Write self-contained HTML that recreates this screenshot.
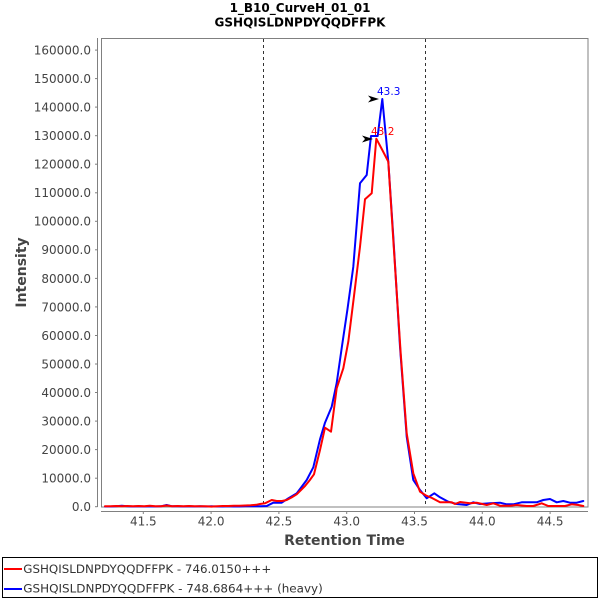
<!DOCTYPE html>
<html>
<head>
<meta charset="utf-8">
<style>
  html, body { margin: 0; padding: 0; background: #ffffff; }
  svg { display: block; }
  text { font-family: "DejaVu Sans", "Liberation Sans", sans-serif; }
</style>
</head>
<body>
<svg width="600" height="600" viewBox="0 0 600 600" xmlns="http://www.w3.org/2000/svg">
  <rect x="0" y="0" width="600" height="600" fill="#ffffff"/>

  <!-- Title -->
  <text x="300" y="12" font-size="12" font-weight="bold" fill="#000" text-anchor="middle">1_B10_CurveH_01_01</text>
  <text x="300" y="26.5" font-size="12" font-weight="bold" fill="#000" text-anchor="middle">GSHQISLDNPDYQQDFFPK</text>

  <!-- Plot border -->
  <rect x="101.5" y="38.5" width="486.5" height="468.5" fill="#ffffff" stroke="#808080" stroke-width="1"/>

  <!-- Y axis line and ticks -->
  <line x1="97.5" y1="38" x2="97.5" y2="507" stroke="#808080" stroke-width="1"/>
  <g stroke="#808080" stroke-width="1">
    <line x1="95" y1="506.7" x2="97.5" y2="506.7"/>
    <line x1="95" y1="478.2" x2="97.5" y2="478.2"/>
    <line x1="95" y1="449.6" x2="97.5" y2="449.6"/>
    <line x1="95" y1="421.1" x2="97.5" y2="421.1"/>
    <line x1="95" y1="392.5" x2="97.5" y2="392.5"/>
    <line x1="95" y1="364.0" x2="97.5" y2="364.0"/>
    <line x1="95" y1="335.5" x2="97.5" y2="335.5"/>
    <line x1="95" y1="306.9" x2="97.5" y2="306.9"/>
    <line x1="95" y1="278.4" x2="97.5" y2="278.4"/>
    <line x1="95" y1="249.8" x2="97.5" y2="249.8"/>
    <line x1="95" y1="221.3" x2="97.5" y2="221.3"/>
    <line x1="95" y1="192.8" x2="97.5" y2="192.8"/>
    <line x1="95" y1="164.2" x2="97.5" y2="164.2"/>
    <line x1="95" y1="135.7" x2="97.5" y2="135.7"/>
    <line x1="95" y1="107.1" x2="97.5" y2="107.1"/>
    <line x1="95" y1="78.6" x2="97.5" y2="78.6"/>
    <line x1="95" y1="50.1" x2="97.5" y2="50.1"/>
  </g>
  <g font-size="12" fill="#444" text-anchor="end">
    <text x="91" y="511">0.0</text>
    <text x="91" y="482.5">10000.0</text>
    <text x="91" y="454">20000.0</text>
    <text x="91" y="425.5">30000.0</text>
    <text x="91" y="397">40000.0</text>
    <text x="91" y="368.4">50000.0</text>
    <text x="91" y="339.9">60000.0</text>
    <text x="91" y="311.3">70000.0</text>
    <text x="91" y="282.8">80000.0</text>
    <text x="91" y="254.2">90000.0</text>
    <text x="91" y="225.7">100000.0</text>
    <text x="91" y="197.2">110000.0</text>
    <text x="91" y="168.6">120000.0</text>
    <text x="91" y="140.1">130000.0</text>
    <text x="91" y="111.5">140000.0</text>
    <text x="91" y="83">150000.0</text>
    <text x="91" y="54.5">160000.0</text>
  </g>

  <!-- X axis line and ticks -->
  <line x1="101" y1="511.5" x2="588" y2="511.5" stroke="#808080" stroke-width="1"/>
  <g stroke="#808080" stroke-width="1">
    <line x1="143.3" y1="511.5" x2="143.3" y2="514"/>
    <line x1="211.1" y1="511.5" x2="211.1" y2="514"/>
    <line x1="278.9" y1="511.5" x2="278.9" y2="514"/>
    <line x1="346.7" y1="511.5" x2="346.7" y2="514"/>
    <line x1="414.5" y1="511.5" x2="414.5" y2="514"/>
    <line x1="482.3" y1="511.5" x2="482.3" y2="514"/>
    <line x1="550.1" y1="511.5" x2="550.1" y2="514"/>
  </g>
  <g font-size="12" fill="#444" text-anchor="middle">
    <text x="143.3" y="525.5">41.5</text>
    <text x="211.1" y="525.5">42.0</text>
    <text x="278.9" y="525.5">42.5</text>
    <text x="346.7" y="525.5">43.0</text>
    <text x="414.5" y="525.5">43.5</text>
    <text x="482.3" y="525.5">44.0</text>
    <text x="550.1" y="525.5">44.5</text>
  </g>

  <!-- Axis labels -->
  <text x="344.5" y="545" font-size="14" font-weight="bold" fill="#444" text-anchor="middle">Retention Time</text>
  <text transform="translate(26,272.5) rotate(-90)" font-size="14" font-weight="bold" fill="#444" text-anchor="middle">Intensity</text>

  <!-- Dashed markers -->
  <line x1="263.5" y1="39" x2="263.5" y2="507" stroke="#333" stroke-width="1" stroke-dasharray="3,3"/>
  <line x1="425.5" y1="39" x2="425.5" y2="507" stroke="#333" stroke-width="1" stroke-dasharray="3,3"/>

  <!-- Series -->
  <g fill="none" stroke-width="2" stroke-linejoin="round" stroke-linecap="round">
    <polyline stroke="#0000ff" points="105,506.5 110.6,506.5 116.2,506.3 121.8,505.8 127.4,506.3 133,506.5 138.6,506.3 144.2,506.5 149.8,506.3 155.4,506.5 161,506.3 166.6,505 172.2,506.3 177.8,506.3 183.4,506.5 189,506.3 194.6,506.5 200.2,506.3 205.8,506.5 211.4,506.3 217,506.5 222.6,506.5 228.2,506.3 233.8,506.5 239.4,506.5 245,506.3 250.6,506.3 256.2,506.3 261,506.3 266.7,506 273.3,502.7 281.7,502.7 288.3,498.3 296.7,493.3 301.5,487 306.7,480 313.3,467.3 320,439.3 325,422.7 331.7,406.7 336.7,383 342,346 347.5,309 353.3,266.7 360,183.3 366.7,175 371,136 377.7,136 382.3,99 388.3,161.7 393.3,236.7 400,346.7 406.7,436.7 413.3,480 420,490 426.7,498.3 434.3,493.3 440,497.3 448.3,501.7 456.7,504 466.7,505 473.3,502.3 480,504 490,503.3 500,502.7 506.7,504.3 513.3,504.3 521.7,502.3 536.7,502.3 543.3,500 550,499 556.7,502.3 563.3,501 570,502.7 576.7,502.7 583.3,501"/>
    <polyline stroke="#ff0000" points="105,506.3 110.6,506.3 116.2,506 121.8,506.3 127.4,506 133,506.3 138.6,506 144.2,506.3 149.8,505.8 155.4,506.3 161,506.3 166.6,505.5 172.2,506.3 177.8,506 183.4,506.3 189,506 194.6,506.3 200.2,506.3 205.8,506.3 211.4,506.6 217,506.3 222.6,506 228.2,506 233.8,505.8 239.4,505.8 245,505.5 250.6,505.3 256.2,504.8 260,504 265,503.3 271.7,500 276.7,501 282,501 286.7,500 291.5,497.5 296.7,494.3 301,490 305,486 309.5,480.5 314,474.3 320,450 325,427.7 331,431.7 336.7,388.3 343.3,368.3 348.3,341.7 354,296 360,246.7 365,199.3 371.7,193.3 376.3,138.7 382.3,150 388.3,161.7 393.3,240 400.7,353.3 406.7,433.3 413.3,473.3 420,491.7 426,495.5 432,498 440,502.3 451.7,502.3 455,504 460,502 470,503.3 476.7,502.7 486.7,505 493.3,503.3 500,505.7 510,505.7 516.7,505 526.7,506 533.3,506 541.7,503.3 548.3,506 556.7,506 565,506 571.7,504.3 578.3,505 583.3,506"/>
  </g>

  <!-- Annotations -->
  <polygon points="379,99 368,95.5 371,99 368,102.5" fill="#000"/>
  <text x="377" y="95" font-size="10.5" fill="#0000ff">43.3</text>
  <polygon points="373,139 362,135.5 365,139 362,142.5" fill="#000"/>
  <text x="371" y="135" font-size="10.5" fill="#ff0000">43.2</text>

  <!-- Legend -->
  <rect x="2.5" y="557.5" width="595" height="40" fill="#ffffff" stroke="#000" stroke-width="1"/>
  <line x1="4" y1="569" x2="22" y2="569" stroke="#ff0000" stroke-width="2"/>
  <text x="23.3" y="573" font-size="11.6" fill="#333" textLength="248" lengthAdjust="spacingAndGlyphs">GSHQISLDNPDYQQDFFPK - 746.0150+++</text>
  <line x1="4" y1="589" x2="22" y2="589" stroke="#0000ff" stroke-width="2"/>
  <text x="23.3" y="592.5" font-size="11.6" fill="#333" textLength="299.5" lengthAdjust="spacingAndGlyphs">GSHQISLDNPDYQQDFFPK - 748.6864+++ (heavy)</text>
</svg>
</body>
</html>
